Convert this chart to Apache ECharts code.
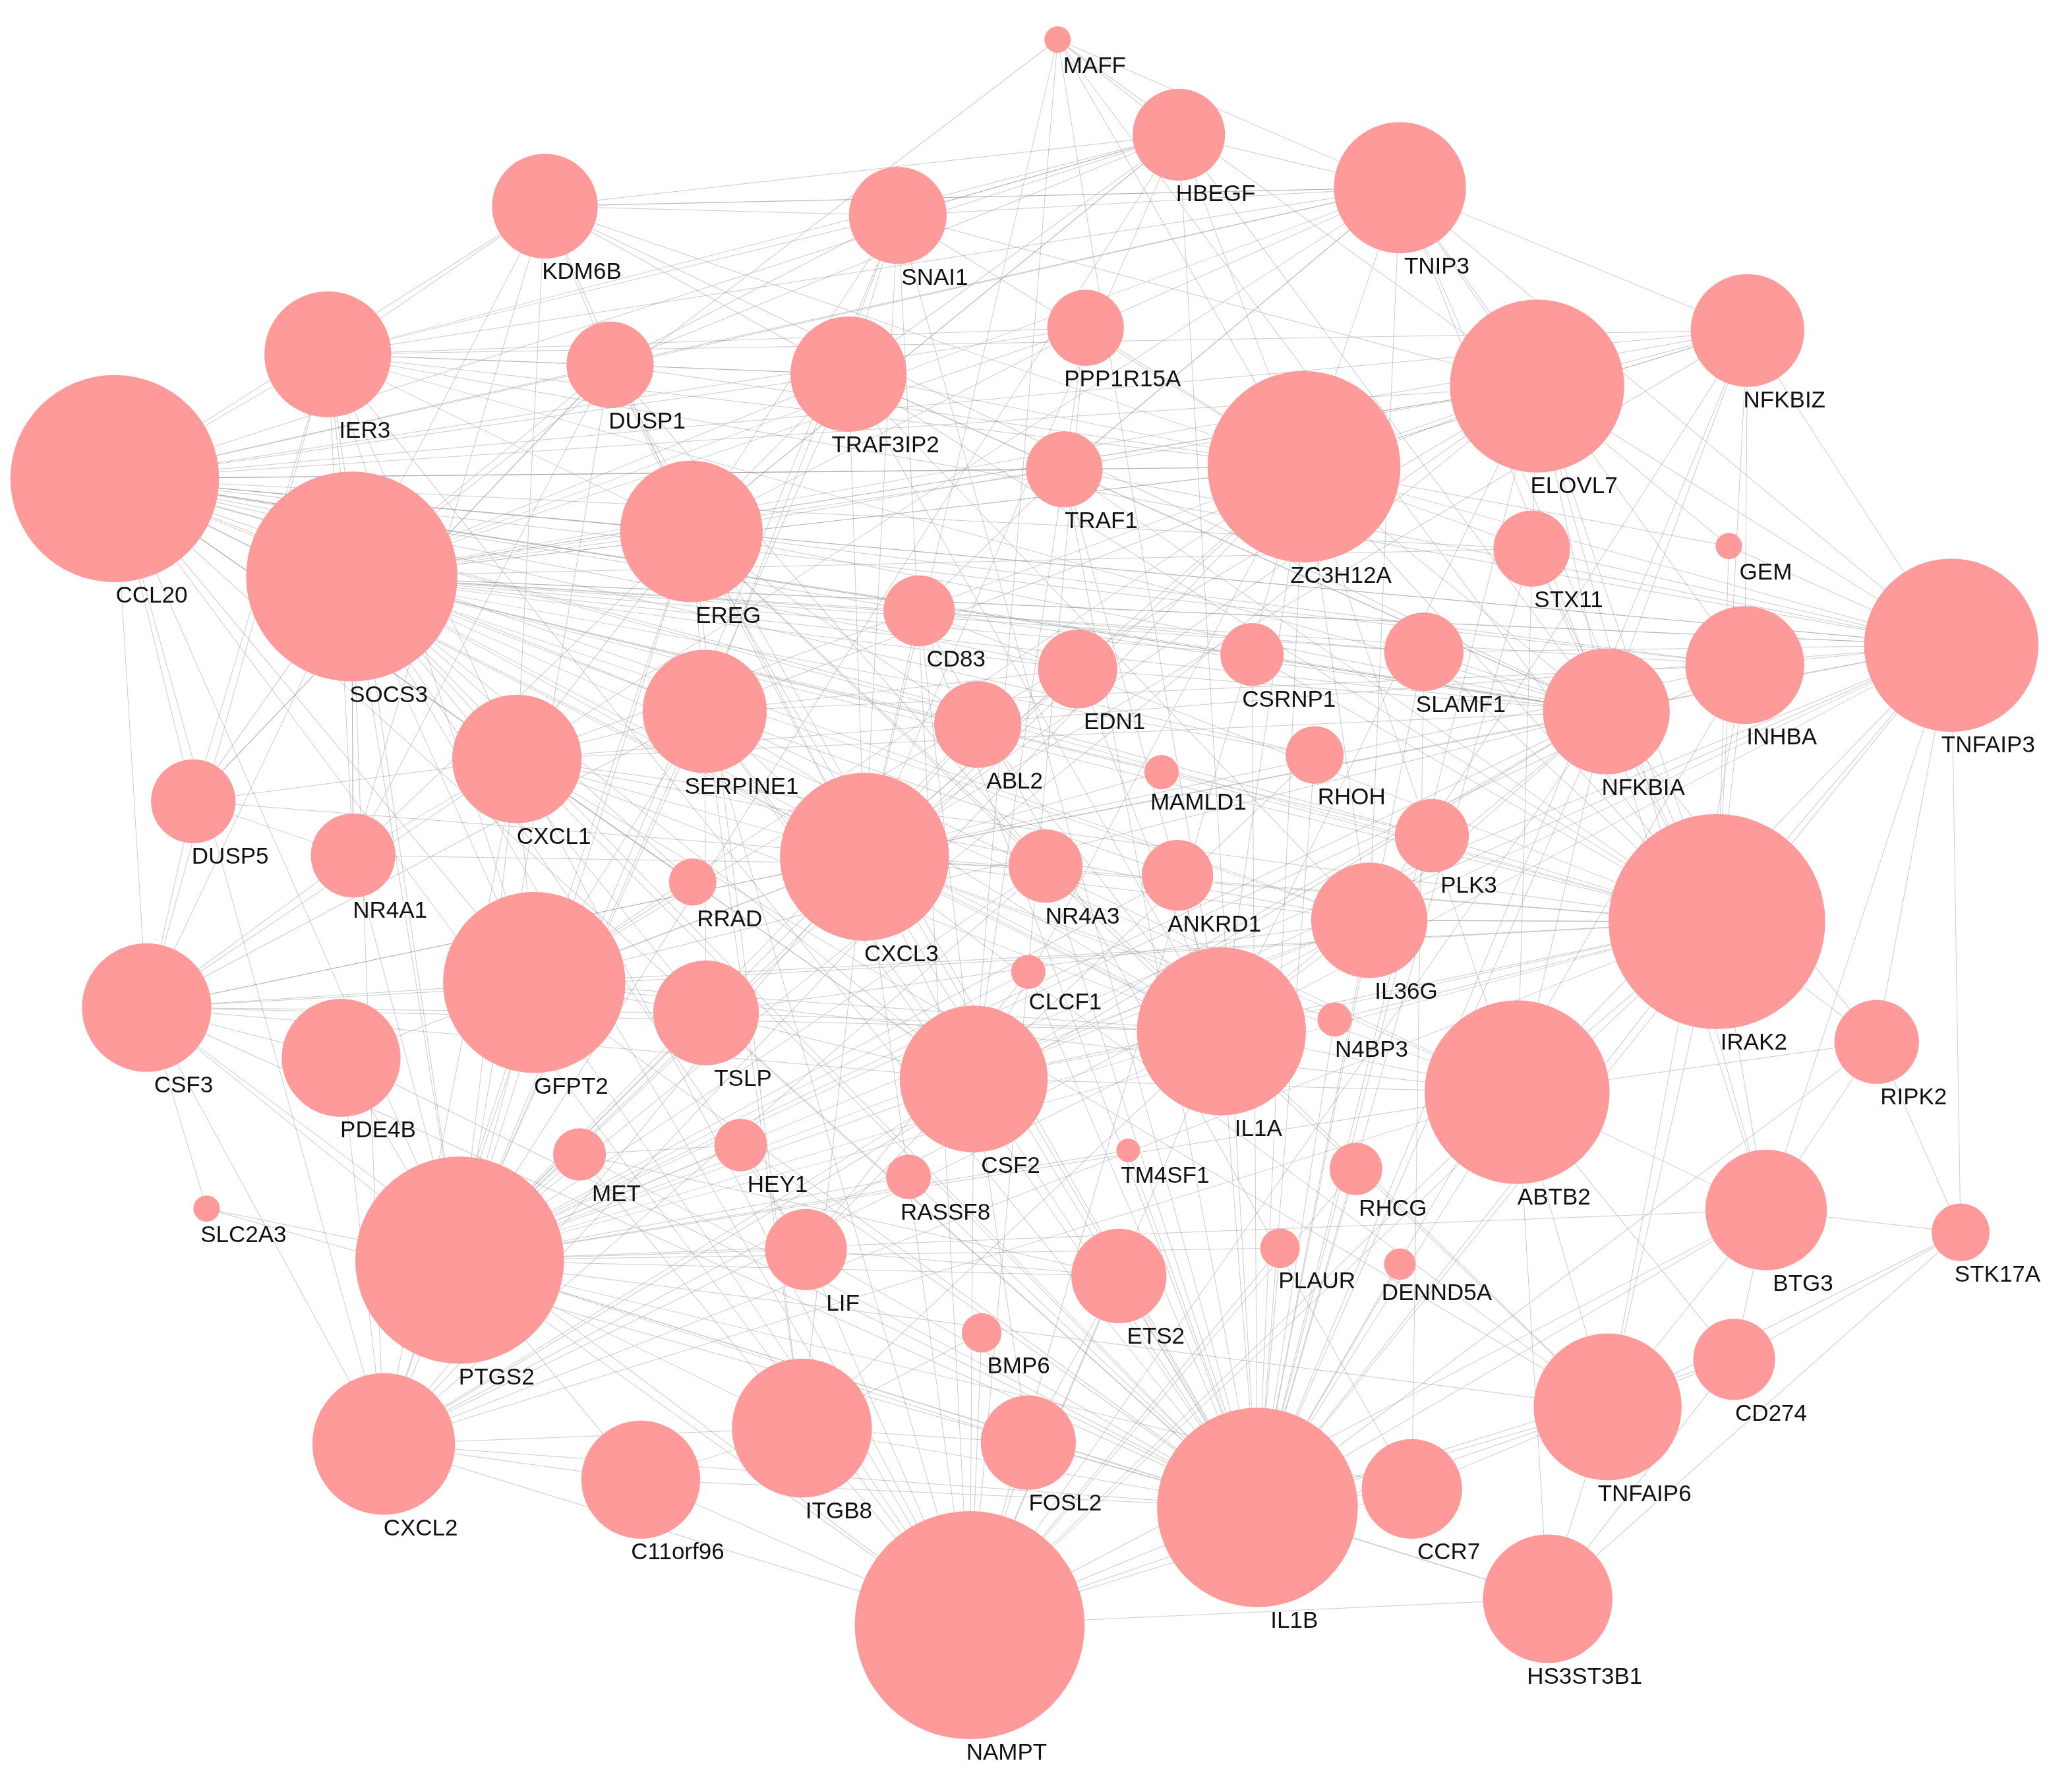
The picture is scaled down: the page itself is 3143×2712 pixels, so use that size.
<!DOCTYPE html>
<html>
<head>
<meta charset="utf-8">
<script src="https://cdn.jsdelivr.net/npm/echarts@6/dist/echarts.min.js"></script>
<style>
  html, body { margin: 0; padding: 0; background: #fff; }
  #main { width: 3143px; height: 2712px; }
</style>
</head>
<body>
<div id="main"></div>
<script>
// gene names, positions (reference pixels at half scale) and node diameters
var genes = ["MAFF","HBEGF","TNIP3","KDM6B","SNAI1","IER3","DUSP1","TRAF3IP2","PPP1R15A","NFKBIZ",
  "CCL20","SOCS3","EREG","TRAF1","ZC3H12A","ELOVL7","STX11","GEM","TNFAIP3","CD83",
  "EDN1","CSRNP1","SLAMF1","NFKBIA","INHBA","SERPINE1","ABL2","CXCL1","DUSP5","NR4A1",
  "MAMLD1","RHOH","PLK3","CXCL3","NR4A3","ANKRD1","RRAD","IL36G","IRAK2","CSF3",
  "GFPT2","TSLP","CLCF1","IL1A","N4BP3","PDE4B","CSF2","ABTB2","RIPK2","MET",
  "HEY1","RASSF8","TM4SF1","RHCG","BTG3","STK17A","SLC2A3","PTGS2","LIF","PLAUR",
  "DENND5A","ETS2","BMP6","CD274","CXCL2","ITGB8","FOSL2","C11orf96","TNFAIP6","CCR7",
  "IL1B","HS3ST3B1","NAMPT"];
var posX = [795,886,1052,410,675,247,459,638,816,1313,
  87,265,520,800,980,1155,1151,1299,1466,691,
  810,941,1070,1207,1311,530,735,389,146,266,
  873,988,1076,650,786,885,521,1029,1290,111,
  402,531,773,918,1003,257,732,1140,1410,436,
  557,683,848,1019,1327,1473,156,346,606,962,
  1052,841,738,1303,289,603,773,482,1208,1061,
  945,1163,729];
var posY = [30,102,142,156,163,268,276,283,248,250,
  362,436,402,355,353,292,415,413,488,462,
  506,495,493,538,503,538,548,574,606,647,
  584,571,632,648,655,662,667,696,697,762,
  743,766,735,780,771,800,816,826,788,873,
  866,890,870,884,915,932,914,953,945,944,
  956,965,1008,1028,1092,1080,1091,1119,1064,1126,
  1140,1209,1229];
var diam = [20,70,100,80,74,96,66,88,58,86,
  158,160,108,58,146,132,58,20,132,54,
  60,48,60,96,90,94,66,98,64,64,
  26,44,56,128,56,54,36,88,164,98,
  138,80,26,128,26,90,112,140,64,40,
  40,34,18,40,92,44,20,158,62,30,
  24,72,30,62,108,106,72,90,112,76,
  152,98,174];

// interactions: first gene links to each of the rest
var links = [
  "MAFF HBEGF TNIP3 ZC3H12A ELOVL7 CXCL3 IL1A SOCS3 IRAK2 CSF2",
  "HBEGF TNIP3 SNAI1 KDM6B EREG ZC3H12A IL1B CXCL3 PTGS2 NFKBIA DUSP1 IER3 CCL20 TRAF3IP2",
  "TNIP3 NFKBIZ ELOVL7 ZC3H12A NFKBIA TNFAIP3 IER3 CCL20 IRAK2 SOCS3 CXCL1 IL36G KDM6B SNAI1 DUSP1 TRAF1 INHBA",
  "KDM6B SNAI1 IER3 CCL20 SOCS3 DUSP1 EREG ZC3H12A TNIP3 NR4A1 TRAF3IP2 CXCL1 NFKBIA",
  "SNAI1 TRAF3IP2 EREG PTGS2 IL1B CXCL3 NAMPT SERPINE1 HBEGF IER3 DUSP1 ELOVL7 ZC3H12A",
  "IER3 CCL20 SOCS3 DUSP1 NFKBIA CXCL1 PTGS2 IL1B TNFAIP3 NR4A1 EREG TRAF3IP2 ZC3H12A CSF3 GFPT2",
  "DUSP1 EREG SOCS3 NR4A1 NR4A3 DUSP5 CXCL3 ZC3H12A IL1B CCL20 TRAF3IP2 PTGS2",
  "TRAF3IP2 TRAF1 IL36G IL1A CXCL3 NFKBIA IRAK2 CCL20 SOCS3 ZC3H12A EREG PTGS2",
  "PPP1R15A TNIP3 ZC3H12A IER3 SOCS3 CSF2 NAMPT CCL20 EREG",
  "NFKBIZ ZC3H12A TNFAIP3 NFKBIA IRAK2 IL1B CXCL3 ELOVL7 SOCS3 INHBA CCL20 IER3 IL36G",
  "CCL20 SOCS3 CXCL1 CXCL2 CXCL3 IL1B CSF3 PTGS2 TNFAIP3 IL36G NAMPT CSF2 EREG IRAK2 NFKBIA ZC3H12A IL1A GFPT2 SERPINE1 DUSP5 ELOVL7 INHBA",
  "SOCS3 CXCL1 CSF3 PTGS2 IL1B IL1A TNFAIP3 IRAK2 GFPT2 CSF2 NAMPT NFKBIA ZC3H12A ABTB2 LIF CXCL3 SERPINE1 EREG CXCL2 NR4A1 TSLP IL36G ELOVL7 INHBA",
  "EREG SERPINE1 CXCL1 PTGS2 IL1B CXCL2 ITGB8 HBEGF ABL2 TNFAIP6 ELOVL7 CXCL3 IL1A NFKBIA INHBA",
  "TRAF1 NFKBIA TNFAIP3 IRAK2 IL1B TNIP3 CD83 CCL20 SOCS3 IL1A",
  "ZC3H12A IRAK2 IL1A IL1B NFKBIA TNFAIP3 ELOVL7 SOCS3 CXCL3 CCL20 NFKBIZ IL36G CSF2 ABTB2 CXCL1 PTGS2 CXCL2 NAMPT GFPT2",
  "ELOVL7 ABTB2 IRAK2 TNFAIP3 BTG3 IL1A CXCL3 GFPT2 PTGS2 NFKBIA SOCS3 IL1B SERPINE1",
  "STX11 IRAK2 TNFAIP3 NFKBIA IL1B ZC3H12A CCL20 SOCS3",
  "GEM IRAK2 TNFAIP3 ZC3H12A ELOVL7",
  "TNFAIP3 NFKBIA IRAK2 INHBA IL1B IL1A ABTB2 BTG3 STK17A CXCL3 SOCS3 RIPK2 CCL20 IL36G CSF2 SLAMF1 CXCL1 PTGS2",
  "CD83 IL1B CCR7 CXCL3 CSF2 NFKBIA SOCS3 CCL20 IRAK2",
  "EDN1 IL1A CXCL3 PTGS2 SERPINE1 NFKBIA CCL20 SOCS3",
  "CSRNP1 NFKBIA IRAK2 SOCS3 IL1B CCL20",
  "SLAMF1 IRAK2 IL1B CCR7 NFKBIA CD83 SOCS3",
  "NFKBIA IRAK2 IL1B IL1A CXCL3 CXCL1 PTGS2 CSF2 CCL20 RIPK2 BTG3 ABTB2 IL36G CXCL2 NAMPT GFPT2",
  "INHBA IRAK2 TNFAIP6 SERPINE1 IL1B PTGS2 CXCL3",
  "SERPINE1 CXCL1 PTGS2 IL1B GFPT2 ITGB8 TSLP CSF3 CXCL3 IL1A NAMPT CSF2 ABTB2",
  "ABL2 CXCL3 IL1A PTGS2 SOCS3",
  "CXCL1 CXCL2 CXCL3 CSF3 IL1B IL1A CSF2 PTGS2 NAMPT IL36G IRAK2 TNFAIP6 GFPT2",
  "DUSP5 DUSP1 IER3 CSF3 NR4A1 IRAK2 SOCS3 CXCL1",
  "NR4A1 NR4A3 SOCS3 EREG PTGS2 CXCL1 CSF3",
  "MAMLD1 IRAK2 CXCL3 SOCS3",
  "RHOH IL1B SOCS3 CSF2 CCL20",
  "PLK3 IRAK2 IL1B CCL20 SOCS3",
  "CXCL3 CXCL2 IL1B IL1A CSF2 CSF3 NAMPT IL36G PTGS2 TNFAIP6 IRAK2 ABTB2 GFPT2 ITGB8",
  "NR4A3 PTGS2 IL1B CXCL2",
  "ANKRD1 IL1A SERPINE1 PTGS2",
  "RRAD GFPT2 SOCS3 CCL20",
  "IL36G IL1A IL1B IRAK2 CSF2 TSLP CXCL2 PTGS2",
  "IRAK2 IL1B IL1A ABTB2 BTG3 RIPK2 TNFAIP6 CXCL2 NAMPT PTGS2 CSF2 CSF3 GFPT2 IL36G",
  "CSF3 CXCL2 CSF2 IL1B PTGS2 GFPT2 PDE4B IL1A NAMPT CXCL3 TSLP",
  "GFPT2 TSLP PTGS2 IL1B NAMPT ABTB2 CXCL2 IL1A",
  "TSLP IL1A IL1B CSF2 PTGS2",
  "CLCF1 IL1B LIF PTGS2",
  "IL1A IL1B CSF2 ABTB2 NAMPT PTGS2 CXCL2 TNFAIP6 ITGB8",
  "N4BP3 IL1B IRAK2 CXCL3",
  "PDE4B PTGS2 CXCL2 IL1B CXCL3",
  "CSF2 IL1B PTGS2 NAMPT CXCL2 LIF FOSL2 ABTB2",
  "ABTB2 BTG3 IL1B TNFAIP6 HS3ST3B1 CD274 PTGS2 NAMPT CXCL2",
  "RIPK2 STK17A BTG3 IL1B ABTB2",
  "MET PTGS2 HEY1 ITGB8 ETS2 IL1B",
  "HEY1 PTGS2 LIF IL1B",
  "RASSF8 IL1B PTGS2",
  "TM4SF1 IL1B PTGS2",
  "RHCG IL1B NAMPT",
  "BTG3 STK17A CD274 TNFAIP6 PTGS2 NAMPT IL1B",
  "STK17A CD274 TNFAIP6 HS3ST3B1",
  "SLC2A3 PTGS2 CSF3 IL1B",
  "PTGS2 CXCL2 ITGB8 C11orf96 NAMPT IL1B LIF FOSL2 ETS2 HS3ST3B1 TNFAIP6 CCR7",
  "LIF IL1B NAMPT ETS2",
  "PLAUR IL1B PTGS2 NAMPT",
  "DENND5A IL1B",
  "ETS2 IL1B NAMPT FOSL2",
  "BMP6 NAMPT ITGB8",
  "CD274 IL1B TNFAIP6 HS3ST3B1",
  "CXCL2 C11orf96 ITGB8 NAMPT IL1B",
  "ITGB8 NAMPT C11orf96 IL1B FOSL2",
  "FOSL2 NAMPT IL1B",
  "C11orf96 NAMPT IL1B",
  "TNFAIP6 HS3ST3B1 IL1B NAMPT CCR7",
  "CCR7 IL1B NAMPT",
  "IL1B NAMPT HS3ST3B1",
  "HS3ST3B1 NAMPT"
];

var nodes = genes.map(function (g, i) {
  return {
    name: g,
    x: posX[i],
    y: posY[i],
    symbolSize: diam[i] * 2.004
  };
});
var edges = [];
links.forEach(function (row) {
  var parts = row.split(" ");
  for (var k = 1; k < parts.length; k++) {
    edges.push({source: parts[0], target: parts[k]});
  }
});

var chart = echarts.init(document.getElementById('main'));
chart.setOption({
  backgroundColor: '#fff',
  animation: false,
  series: [{
    type: 'graph',
    layout: 'none',
    left: 174,
    top: 60,
    width: 2800,
    height: 2405,
    data: nodes,
    links: edges,
    itemStyle: {color: '#fe9a9a'},
    lineStyle: {color: '#999', width: 1, opacity: 0.5, curveness: 0},
    label: {
      show: true,
      position: 'bottom',
      distance: 4,
      offset: [56, 0],
      fontFamily: 'Liberation Sans',
      fontSize: 35,
      color: '#111'
    },
    emphasis: {disabled: true}
  }]
});
</script>
</body>
</html>
